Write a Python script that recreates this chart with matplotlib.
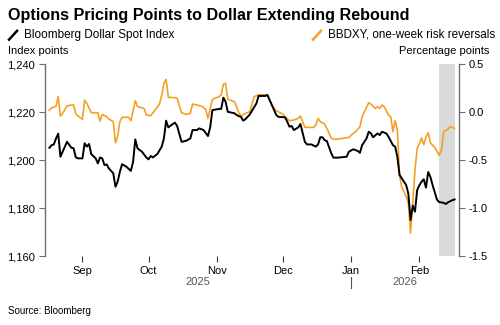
import matplotlib
matplotlib.use("Agg")
import matplotlib.pyplot as plt
import matplotlib.dates as mdates
from matplotlib.lines import Line2D
import matplotlib.transforms as mtransforms
import pandas as pd

plt.rcParams['font.family'] = ['Liberation Sans', 'DejaVu Sans']
plt.rcParams['axes.unicode_minus'] = False

# Bloomberg Dollar Spot Index (left axis)
dxy_dates = [
    "2025-08-17", "2025-08-18", "2025-08-19", "2025-08-20", "2025-08-21", "2025-08-22",
    "2025-08-23", "2025-08-25", "2025-08-27", "2025-08-28", "2025-08-29", "2025-08-30",
    "2025-09-01", "2025-09-02", "2025-09-03", "2025-09-04", "2025-09-05", "2025-09-07",
    "2025-09-08", "2025-09-09", "2025-09-10", "2025-09-11", "2025-09-12", "2025-09-13",
    "2025-09-15", "2025-09-16", "2025-09-17", "2025-09-18", "2025-09-19", "2025-09-21",
    "2025-09-23", "2025-09-24", "2025-09-25", "2025-09-26", "2025-09-28", "2025-09-30",
    "2025-10-01", "2025-10-02", "2025-10-03", "2025-10-05", "2025-10-07", "2025-10-08",
    "2025-10-09", "2025-10-10", "2025-10-12", "2025-10-13", "2025-10-14", "2025-10-16",
    "2025-10-18", "2025-10-20", "2025-10-21", "2025-10-23", "2025-10-24", "2025-10-26",
    "2025-10-28", "2025-10-29", "2025-10-30", "2025-11-02", "2025-11-03", "2025-11-04",
    "2025-11-05", "2025-11-06", "2025-11-09", "2025-11-10", "2025-11-11", "2025-11-12",
    "2025-11-13", "2025-11-14", "2025-11-16", "2025-11-19", "2025-11-20", "2025-11-23",
    "2025-11-24", "2025-11-26", "2025-11-28", "2025-11-29", "2025-12-02", "2025-12-03",
    "2025-12-04", "2025-12-05", "2025-12-06", "2025-12-08", "2025-12-09", "2025-12-11",
    "2025-12-12", "2025-12-14", "2025-12-16", "2025-12-17", "2025-12-18", "2025-12-19",
    "2025-12-20", "2025-12-21", "2025-12-23", "2025-12-24", "2025-12-26", "2025-12-30",
    "2025-12-31", "2026-01-02", "2026-01-04", "2026-01-05", "2026-01-06", "2026-01-08",
    "2026-01-09", "2026-01-10", "2026-01-11", "2026-01-13", "2026-01-14", "2026-01-15",
    "2026-01-17", "2026-01-18", "2026-01-20", "2026-01-21", "2026-01-22", "2026-01-23",
    "2026-01-24", "2026-01-26", "2026-01-27", "2026-01-28", "2026-01-29", "2026-01-30",
    "2026-01-31", "2026-02-01", "2026-02-02", "2026-02-03", "2026-02-04", "2026-02-05",
    "2026-02-06", "2026-02-07", "2026-02-09", "2026-02-10", "2026-02-12", "2026-02-13",
    "2026-02-14", "2026-02-16", "2026-02-17",
]
dxy_values = [
    1205.1, 1206.2, 1206.5, 1209.0, 1211.0, 1201.4,
    1203.5, 1207.6, 1205.1, 1204.9, 1201.1, 1200.7,
    1200.7, 1207.0, 1205.6, 1206.7, 1202.5, 1200.7,
    1198.6, 1201.1, 1200.7, 1197.9, 1198.2, 1196.5,
    1194.5, 1188.9, 1191.0, 1195.1, 1198.3, 1197.2,
    1195.5, 1199.3, 1208.6, 1204.9, 1203.5, 1201.1,
    1200.3, 1201.7, 1201.1, 1202.5, 1205.6, 1209.0,
    1216.4, 1213.6, 1215.0, 1215.6, 1214.2, 1207.6,
    1208.0, 1209.0, 1212.5, 1212.5, 1213.2, 1212.5,
    1210.0, 1213.6, 1220.8, 1221.3, 1221.3, 1226.0,
    1224.3, 1220.1, 1219.5, 1218.8, 1218.3, 1218.0,
    1216.4, 1217.0, 1219.0, 1223.6, 1226.7, 1226.7,
    1227.1, 1222.9, 1218.8, 1218.0, 1217.8, 1216.0,
    1213.9, 1214.2, 1212.5, 1213.6, 1215.0, 1207.6,
    1206.5, 1206.5, 1205.6, 1206.5, 1209.5, 1209.5,
    1208.3, 1207.9, 1202.8, 1201.0, 1201.0, 1201.4,
    1203.5, 1204.5, 1203.8, 1203.0, 1206.2, 1209.0,
    1211.8, 1211.1, 1209.5, 1211.1, 1210.4, 1211.8,
    1211.1, 1209.7, 1206.2, 1205.6, 1201.4, 1193.8,
    1192.4, 1189.6, 1186.0, 1175.0, 1181.0, 1178.5,
    1187.5, 1189.5, 1191.0, 1192.0, 1188.5, 1195.0,
    1193.0, 1189.6, 1183.5, 1182.5, 1182.2, 1181.7,
    1182.4, 1183.3, 1183.6,
]

# BBDXY one-week risk reversals (right axis)
rr_dates = [
    "2025-08-17", "2025-08-18", "2025-08-19", "2025-08-20", "2025-08-21", "2025-08-22",
    "2025-08-23", "2025-08-25", "2025-08-27", "2025-08-28", "2025-08-29", "2025-08-30",
    "2025-09-01", "2025-09-02", "2025-09-03", "2025-09-05", "2025-09-07", "2025-09-08",
    "2025-09-09", "2025-09-10", "2025-09-12", "2025-09-13", "2025-09-15", "2025-09-16",
    "2025-09-17", "2025-09-18", "2025-09-19", "2025-09-22", "2025-09-23", "2025-09-25",
    "2025-09-26", "2025-09-29", "2025-09-30", "2025-10-02", "2025-10-06", "2025-10-07",
    "2025-10-08", "2025-10-09", "2025-10-10", "2025-10-13", "2025-10-14", "2025-10-16",
    "2025-10-18", "2025-10-20", "2025-10-21", "2025-10-25", "2025-10-27", "2025-10-28",
    "2025-10-30", "2025-11-02", "2025-11-03", "2025-11-04", "2025-11-05", "2025-11-06",
    "2025-11-09", "2025-11-10", "2025-11-11", "2025-11-12", "2025-11-14", "2025-11-16",
    "2025-11-18", "2025-11-20", "2025-11-24", "2025-11-26", "2025-11-28", "2025-12-01",
    "2025-12-02", "2025-12-04", "2025-12-06", "2025-12-08", "2025-12-09", "2025-12-11",
    "2025-12-13", "2025-12-15", "2025-12-16", "2025-12-17", "2025-12-18", "2025-12-20",
    "2025-12-21", "2025-12-23", "2025-12-25", "2025-12-28", "2025-12-31", "2026-01-02",
    "2026-01-03", "2026-01-05", "2026-01-06", "2026-01-08", "2026-01-09", "2026-01-10",
    "2026-01-12", "2026-01-13", "2026-01-14", "2026-01-15", "2026-01-16", "2026-01-18",
    "2026-01-19", "2026-01-20", "2026-01-21", "2026-01-22", "2026-01-23", "2026-01-24",
    "2026-01-26", "2026-01-27", "2026-01-28", "2026-01-29", "2026-01-30", "2026-01-31",
    "2026-02-01", "2026-02-02", "2026-02-03", "2026-02-04", "2026-02-05", "2026-02-06",
    "2026-02-08", "2026-02-10", "2026-02-11", "2026-02-12", "2026-02-14", "2026-02-15",
    "2026-02-17",
]
rr_values = [
    0.02, 0.045, 0.05, 0.06, 0.16, -0.042,
    -0.014, 0.063, 0.073, 0.073, -0.021, -0.042,
    -0.076, 0.125, 0.09, -0.007, -0.007, -0.007,
    -0.094, -0.024, -0.049, -0.073, -0.10, -0.32,
    -0.25, -0.10, -0.055, -0.055, -0.09, 0.118,
    0.056, 0.038, -0.031, -0.038, 0.083, 0.177,
    0.30, 0.34, 0.153, 0.149, 0.143, -0.007,
    -0.024, -0.014, 0.083, 0.063, 0.028, -0.066,
    0.132, 0.16, 0.177, 0.29, 0.30, 0.132,
    0.108, 0.056, -0.007, -0.042, -0.014, 0.003,
    0.16, 0.18, 0.18, 0.073, 0.014, -0.021,
    -0.049, -0.09, -0.083, -0.066, -0.042, -0.16,
    -0.16, -0.16, -0.135, -0.066, -0.10, -0.125,
    -0.17, -0.274, -0.284, -0.274, -0.264, -0.222,
    -0.205, -0.153, -0.049, 0.049, 0.097, 0.083,
    0.038, 0.056, 0.038, 0.073, 0.056, -0.031,
    -0.049, -0.205, -0.09, -0.19, -0.66, -0.78,
    -0.88, -0.95, -1.26, -0.95, -0.60, -0.38,
    -0.33, -0.27, -0.34, -0.26, -0.215, -0.32,
    -0.37, -0.45, -0.40, -0.205, -0.18, -0.15,
    -0.17,
]

month_ticks = ["2025-09-01", "2025-10-01", "2025-11-01", "2025-12-01", "2026-01-01", "2026-02-01"]
left_ticks = [1160, 1180, 1200, 1220, 1240]
right_ticks = [-1.5, -1.0, -0.5, 0.0, 0.5]
shade_start, shade_end = "2026-02-10", "2026-02-17"

BLACK = "#000000"
ORANGE = "#F5A023"
SPINE = "#6e6e6e"

dxy_x = pd.to_datetime(dxy_dates)
rr_x = pd.to_datetime(rr_dates)

fig = plt.figure(figsize=(5, 3.25), dpi=100)
ax = fig.add_axes([0.09, 0.212, 0.828, 0.591])
ax2 = ax.twinx()
ax.set_zorder(ax2.get_zorder() + 1)
ax.patch.set_visible(False)

ax2.axvspan(pd.Timestamp(shade_start), pd.Timestamp(shade_end), color="#d9d9d9", lw=0, zorder=0)
ax2.plot(rr_x, rr_values, color=ORANGE, lw=1.2, zorder=2)
ax.plot(dxy_x, dxy_values, color=BLACK, lw=1.4, zorder=3)

ax.set_xlim(pd.Timestamp("2025-08-15"), pd.Timestamp("2026-02-19"))
ax.set_ylim(1160, 1240)
ax2.set_ylim(-1.5, 0.5)

ax.set_yticks(left_ticks)
ax.set_yticklabels([f"{v:,}" for v in left_ticks])
ax2.set_yticks(right_ticks)
ax2.set_yticklabels([f"{v:.1f}" for v in right_ticks])

ax.set_xticks(pd.to_datetime(month_ticks))
ax.xaxis.set_major_formatter(mdates.DateFormatter("%b"))

for a in (ax, ax2):
    for s in ("top", "bottom"):
        a.spines[s].set_visible(False)
ax.spines["right"].set_visible(False)
ax2.spines["left"].set_visible(False)
ax.spines["left"].set_color(SPINE)
ax2.spines["right"].set_color(SPINE)
ax.spines["left"].set_linewidth(1.0)
ax2.spines["right"].set_linewidth(1.0)

ax.tick_params(axis="y", length=4, width=0.8, color=SPINE, labelsize=8, pad=3)
ax2.tick_params(axis="y", length=4, width=0.8, color=SPINE, labelsize=8, pad=3)
ax.tick_params(axis="x", length=4, width=0.8, color="#333333", labelsize=8, pad=3)

# year labels under month ticks
trans = mtransforms.blended_transform_factory(ax.transData, ax.transAxes)
x0, x1 = ax.get_xlim()
jan = mdates.date2num(pd.Timestamp("2026-01-01"))
ax.text((x0 + jan) / 2, -0.135, "2025", transform=trans, ha="center", va="center",
        fontsize=8, color="#555555")
ax.text((jan + x1) / 2, -0.135, "2026", transform=trans, ha="center", va="center",
        fontsize=8, color="#555555")
ax.add_line(Line2D([jan, jan], [-0.11, -0.167], transform=trans, color="#555555",
                   lw=0.8, clip_on=False))

# titles and legend
fig.text(0.016, 0.952, "Options Pricing Points to Dollar Extending Rebound",
         fontsize=11.6, fontweight="bold", ha="left", va="center")
fig.add_artist(Line2D([0.018, 0.034], [0.878, 0.905], color=BLACK, lw=1.8,
                      transform=fig.transFigure))
fig.text(0.048, 0.893, "Bloomberg Dollar Spot Index", fontsize=8.5, ha="left", va="center")
fig.add_artist(Line2D([0.626, 0.642], [0.878, 0.905], color=ORANGE, lw=1.8,
                      transform=fig.transFigure))
fig.text(0.656, 0.893, "BBDXY, one-week risk reversals", fontsize=8.4, ha="left", va="center")
fig.text(0.016, 0.843, "Index points", fontsize=8, ha="left", va="center")
fig.text(0.978, 0.843, "Percentage points", fontsize=8, ha="right", va="center")
fig.text(0.016, 0.043, "Source: Bloomberg", fontsize=7, ha="left", va="center")

fig.savefig("out.png", dpi=100)
